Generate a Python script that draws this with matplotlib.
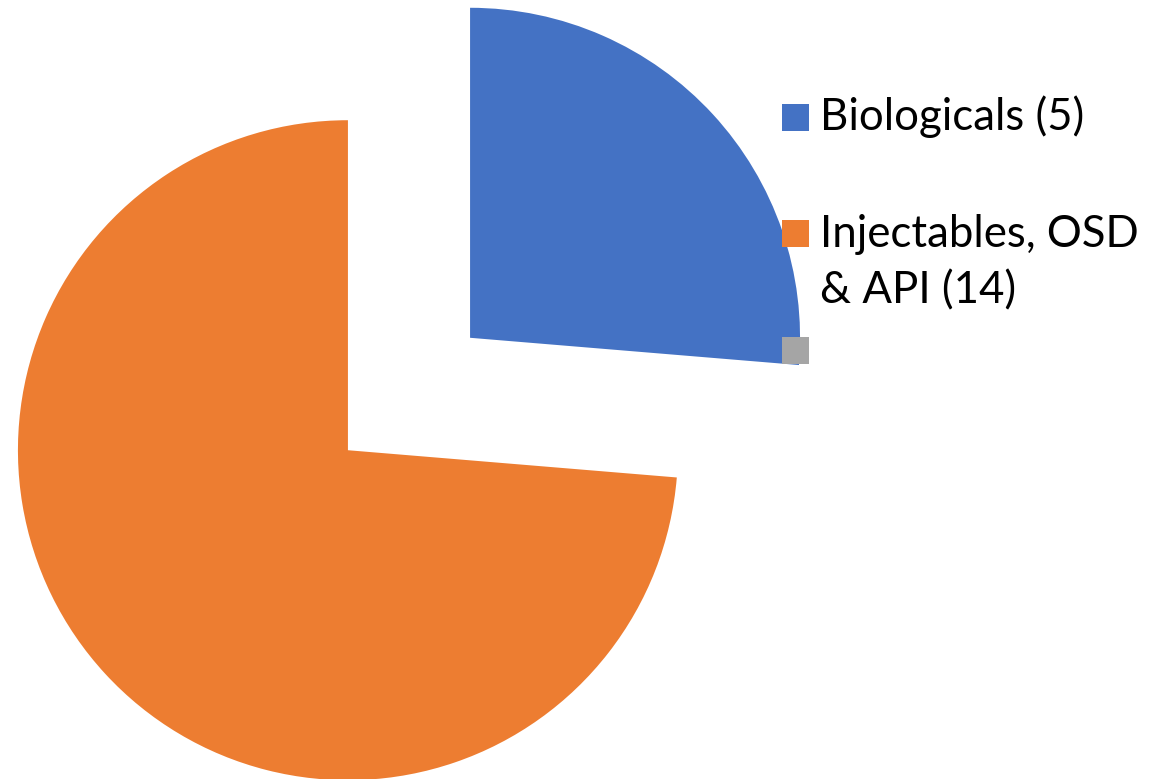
import matplotlib
matplotlib.use("Agg")
import matplotlib.pyplot as plt
from matplotlib.patches import Rectangle

labels = ["Biologicals (5)", "Injectables, OSD\n& API (14)", ""]
values = [5, 14, 0]
colors = ["#4472C4", "#ED7D31", "#A5A5A5"]

W, H = 1157, 779
fig = plt.figure(figsize=(W / 100, H / 100), dpi=100)
ax = fig.add_axes([0, 0, 1, 1])

wedges, _ = ax.pie(values[:2], colors=colors[:2], startangle=90, counterclock=False,
                   radius=330, center=(409, H - 394), explode=[83, 83],
                   wedgeprops=dict(linewidth=0))
ax.set_xlim(0, W)
ax.set_ylim(0, H)
ax.set_aspect("equal")
ax.axis("off")

# legend drawn manually (marker squares + labels)
marker_tops = [104, 220, 337]
first_baselines = [130, 247, 0]
line_step = 56
for lab, col, mt, bl in zip(labels, colors, marker_tops, first_baselines):
    ax.add_patch(Rectangle((782, H - mt - 27), 27, 27, facecolor=col, edgecolor="none"))
    if lab:
        for i, line in enumerate(lab.split("\n")):
            ax.text(820, H - bl - i * line_step, line, fontsize=31.5, family="Lato",
                    va="baseline", ha="left", color="black")

fig.savefig("out.png", dpi=100)
